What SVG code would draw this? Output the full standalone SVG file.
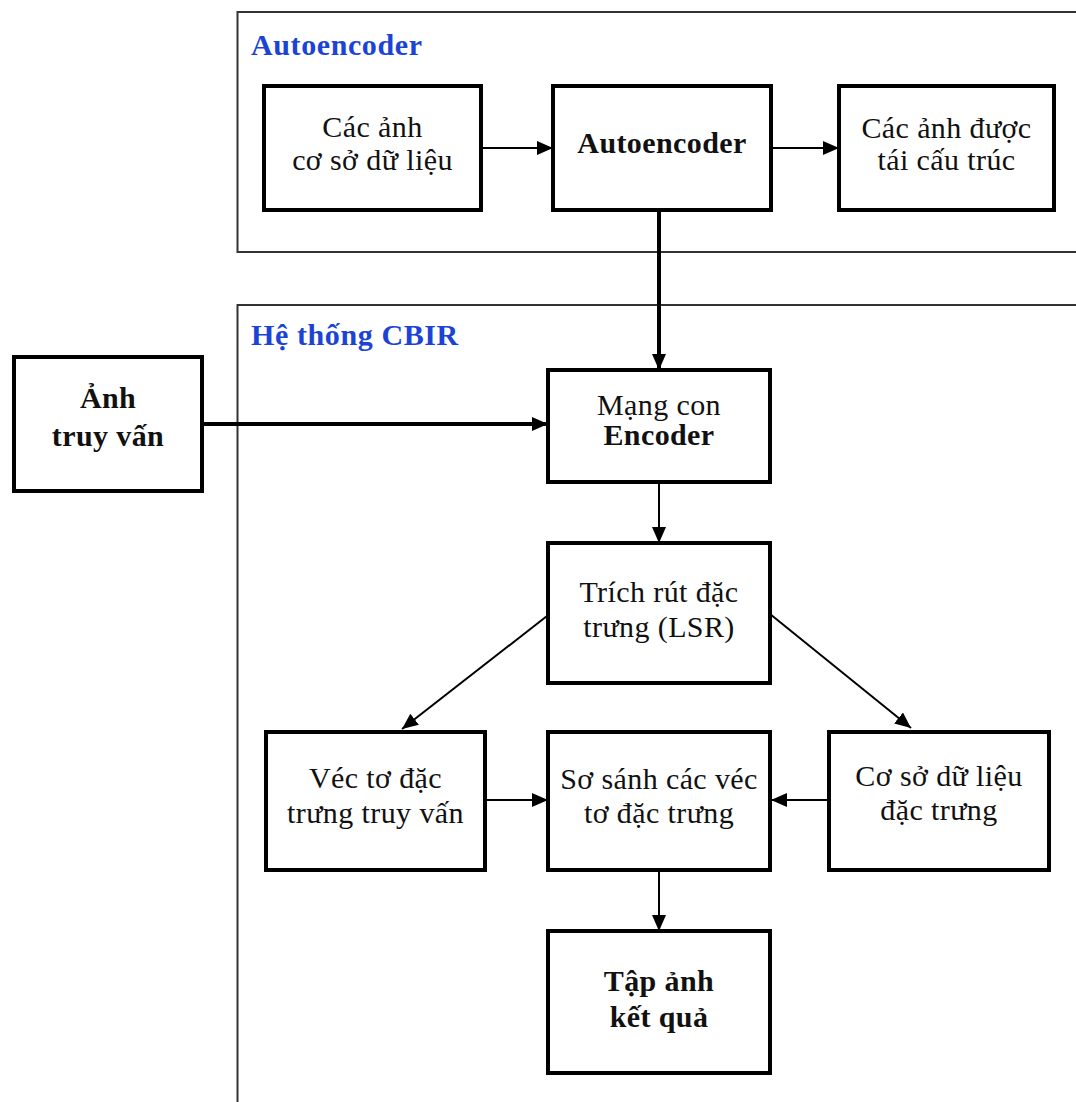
<svg xmlns="http://www.w3.org/2000/svg" width="1076" height="1102" viewBox="0 0 1076 1102">
  <defs>
    <style>
      .frame { fill: none; stroke: #333; stroke-width: 2; }
      .box { fill: #fff; stroke: #000; stroke-width: 4; }
      .t { font-family: "Liberation Serif", "Times New Roman", serif; font-size: 30px; letter-spacing: 0.4px; fill: #111; text-anchor: middle; }
      .b { font-weight: bold; }
      .head { font-family: "Liberation Serif", "Times New Roman", serif; font-size: 30px; letter-spacing: 0.6px; font-weight: bold; fill: #1c44d4; }
      .thin { fill: none; stroke: #000; stroke-width: 2; marker-end: url(#arrow); }
      .thick { fill: none; stroke: #000; stroke-width: 4; marker-end: url(#arrow); }
    </style>
    <marker id="arrow" markerUnits="userSpaceOnUse" markerWidth="18" markerHeight="16" refX="16" refY="7" orient="auto">
      <path d="M0,0 L16,7 L0,14 z" fill="#000"/>
    </marker>
  </defs>
  <rect width="1076" height="1102" fill="#fff"/>

  <!-- section frames (open to the right / bottom edge) -->
  <g id="frame-autoencoder">
    <path class="frame" d="M1080,12 H237.5 V252 H1080"/>
    <text class="head" x="251" y="55">Autoencoder</text>
  </g>
  <g id="frame-cbir">
    <path class="frame" d="M1080,305 H237.5 V1110"/>
    <text class="head" x="251" y="345">Hệ thống CBIR</text>
  </g>

  <!-- connectors -->
  <g id="connectors">
    <line class="thin" x1="481" y1="148" x2="553" y2="148"/>
    <line class="thin" x1="771" y1="148" x2="839" y2="148"/>
    <line class="thick" x1="659" y1="210" x2="659" y2="370"/>
    <line class="thick" x1="202" y1="424" x2="548" y2="424"/>
    <line class="thin" x1="659" y1="482" x2="659" y2="543"/>
    <line class="thin" x1="547" y1="616" x2="402" y2="729"/>
    <line class="thin" x1="770" y1="614" x2="911" y2="728"/>
    <line class="thin" x1="486" y1="800" x2="548" y2="800"/>
    <line class="thin" x1="829" y1="800" x2="771" y2="800"/>
    <line class="thin" x1="659" y1="870" x2="659" y2="931"/>
  </g>

  <!-- nodes -->
  <g id="node-db-images">
    <rect class="box" x="264" y="86" width="217" height="124"/>
    <text class="t" x="372.5" y="137">Các ảnh</text>
    <text class="t" x="372.5" y="170">cơ sở dữ liệu</text>
  </g>
  <g id="node-autoencoder">
    <rect class="box" x="553" y="86" width="218" height="124"/>
    <text class="t b" x="662" y="153">Autoencoder</text>
  </g>
  <g id="node-reconstructed">
    <rect class="box" x="839" y="86" width="215" height="124"/>
    <text class="t" x="946.5" y="138">Các ảnh được</text>
    <text class="t" x="946.5" y="170">tái cấu trúc</text>
  </g>
  <g id="node-query-image">
    <rect class="box" x="14" y="357" width="188" height="134"/>
    <text class="t b" x="108" y="408">Ảnh</text>
    <text class="t b" x="108" y="446">truy vấn</text>
  </g>
  <g id="node-encoder">
    <rect class="box" x="548" y="370" width="222" height="112"/>
    <text class="t" x="659" y="415">Mạng con</text>
    <text class="t b" x="659" y="445">Encoder</text>
  </g>
  <g id="node-extract">
    <rect class="box" x="548" y="543" width="222" height="140"/>
    <text class="t" x="659" y="602">Trích rút đặc</text>
    <text class="t" x="659" y="637">trưng (LSR)</text>
  </g>
  <g id="node-query-vector">
    <rect class="box" x="266" y="732" width="219" height="138"/>
    <text class="t" x="375.5" y="788">Véc tơ đặc</text>
    <text class="t" x="375.5" y="823">trưng truy vấn</text>
  </g>
  <g id="node-compare">
    <rect class="box" x="548" y="732" width="222" height="138"/>
    <text class="t" x="659" y="789">Sơ sánh các véc</text>
    <text class="t" x="659" y="823">tơ đặc trưng</text>
  </g>
  <g id="node-feature-db">
    <rect class="box" x="829" y="732" width="220" height="138"/>
    <text class="t" x="939" y="786">Cơ sở dữ liệu</text>
    <text class="t" x="939" y="820">đặc trưng</text>
  </g>
  <g id="node-result">
    <rect class="box" x="548" y="931" width="222" height="142"/>
    <text class="t b" x="659" y="991">Tập ảnh</text>
    <text class="t b" x="659" y="1027">kết quả</text>
  </g>
</svg>
